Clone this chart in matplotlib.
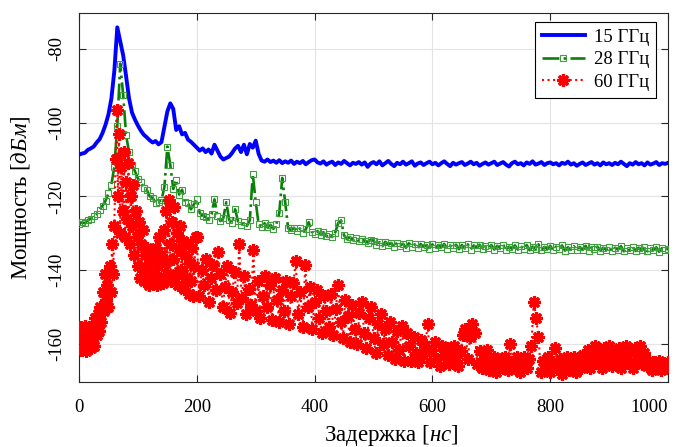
import numpy as np
import matplotlib
matplotlib.use("Agg")
import matplotlib.pyplot as plt

plt.rcParams['font.family'] = ['Liberation Serif', 'DejaVu Serif']
plt.rcParams['mathtext.fontset'] = 'custom'
plt.rcParams['mathtext.rm'] = 'Liberation Serif'
plt.rcParams['mathtext.it'] = 'Liberation Serif:italic'
plt.rcParams['axes.unicode_minus'] = False

# ---------------- data ----------------
delay_15 = np.arange(0, 1001, 5)
power_15 = [
    -108.7, -108.4, -108.2, -107.4, -107.0, -106.5, -105.4, -104.5, -102.8, -100.6,
    -97.8, -93.5, -86.0, -74.2, -78.0, -81.8, -87.5, -93.5, -97.3, -99.2,
    -100.8, -102.2, -103.3, -104.0, -104.8, -105.4, -105.0, -105.9, -105.3, -101.2,
    -97.0, -94.8, -96.3, -102.0, -101.0, -103.2, -102.8, -104.6, -105.2, -106.0,
    -106.8, -107.6, -107.0, -108.0, -107.3, -108.4, -106.0, -107.6, -109.2, -110.0,
    -109.6, -109.2, -108.2, -107.0, -106.3, -108.0, -106.0, -108.6, -105.8, -106.8,
    -104.9, -108.5, -110.3, -110.6, -110.0, -110.7, -110.3, -110.9, -110.2, -111.0,
    -110.5, -110.9, -110.3, -111.2, -110.6, -111.0, -110.4, -111.3, -110.7, -110.2,
    -110.0, -110.8, -111.1, -110.5, -111.4, -110.9, -110.6, -111.5, -110.8, -111.2,
    -110.4, -111.0, -111.6, -110.9, -111.2, -110.7, -111.4, -110.8, -112.0, -111.1,
    -110.7, -111.3, -110.5, -111.6, -111.0, -110.4, -111.2, -111.8, -110.9, -111.3,
    -110.6, -111.4, -111.0, -110.5, -111.7, -111.1, -110.8, -111.5, -111.0, -110.6,
    -111.3, -110.9, -111.6, -111.0, -110.5, -111.2, -111.8, -110.9, -111.4, -111.0,
    -110.7, -111.5, -111.1, -110.6, -111.3, -110.9, -111.7, -111.2, -110.8, -111.4,
    -111.0, -110.6, -111.5, -111.1, -110.7, -111.4, -111.9, -111.0, -110.6, -111.3,
    -111.0, -111.6, -110.8, -111.2, -110.5, -111.4, -111.1, -110.7, -111.5, -111.0,
    -110.8, -111.3, -111.0, -111.6, -110.9, -111.2, -110.6, -111.4, -111.0, -111.7,
    -111.2, -110.8, -111.5, -111.1, -110.7, -111.4, -111.0, -111.6, -110.8, -111.3,
    -111.0, -111.5, -110.9, -111.3, -110.6, -111.2, -111.8, -111.0, -111.4, -110.7,
    -111.3, -111.0, -111.6, -110.8, -111.4, -111.1, -110.7, -111.5, -111.0, -111.2,
    -110.9,
]

delay_28 = np.arange(0, 1001, 5)
power_28 = [
    -127.6, -127.0, -127.3, -126.4, -126.1, -125.2, -124.8, -123.6, -122.5, -121.2,
    -119.2, -116.8, -112.0, -101.0, -84.0, -92.5, -103.5, -108.0, -111.5, -113.2,
    -115.2, -116.0, -117.8, -118.2, -120.0, -120.4, -121.8, -121.5, -121.0, -117.5,
    -106.5, -111.5, -118.0, -115.5, -119.5, -118.2, -121.6, -121.8, -123.5, -122.2,
    -120.8, -124.5, -125.2, -125.6, -126.3, -124.8, -120.8, -125.2, -126.7, -125.9,
    -121.6, -126.4, -127.2, -123.5, -126.8, -127.7, -127.0, -128.0, -126.5, -114.0,
    -121.5, -127.6, -128.3, -127.3, -128.4, -127.7, -128.8, -127.5, -124.5, -115.0,
    -121.5, -128.6, -129.2, -128.5, -129.5, -128.7, -129.8, -128.9, -127.0, -129.6,
    -130.2, -129.4, -130.4, -129.7, -130.8, -130.1, -131.0, -129.8, -127.2, -126.5,
    -130.6, -131.6, -131.0, -131.9, -131.3, -132.2, -131.5, -132.1, -132.5, -131.7,
    -132.0, -133.2, -132.4, -133.5, -132.3, -133.1, -132.6, -133.8, -132.5, -133.4,
    -132.8, -133.9, -132.7, -133.6, -133.0, -134.1, -132.9, -133.7, -133.2, -134.2,
    -133.0, -134.0, -133.2, -133.8, -132.9, -134.2, -133.3, -134.0, -133.1, -134.3,
    -133.2, -134.1, -133.0, -134.4, -133.3, -134.0, -133.1, -134.3, -133.5, -134.1,
    -133.2, -134.4, -133.4, -134.0, -133.1, -134.5, -133.6, -134.2, -133.3, -134.4,
    -133.5, -134.3, -133.2, -134.6, -133.6, -134.2, -133.0, -134.5, -133.7, -134.3,
    -133.4, -134.6, -133.6, -134.2, -133.3, -134.7, -133.8, -134.4, -133.5, -134.6,
    -133.7, -134.5, -133.4, -134.8, -133.8, -134.3, -133.6, -134.7, -133.9, -134.5,
    -133.6, -134.8, -133.9, -134.4, -133.5, -134.9, -134.0, -134.6, -133.7, -134.8,
    -133.9, -134.6, -133.7, -134.9, -134.1, -134.5, -133.8, -135.0, -134.0, -134.6,
    -134.2,
]

delay_60 = np.concatenate([np.arange(0, 200, 2), np.arange(200, 1001, 4)])
power_60 = [
    # 0 .. 198 ns (step 2)
    -158.0, -155.5, -161.5, -157.0, -159.5, -155.0, -162.0, -157.5, -160.0, -155.5,
    -161.0, -158.0, -156.0, -160.5, -153.0, -157.5, -152.0, -156.5, -150.0, -154.0,
    -146.0, -151.0, -141.0, -148.0, -144.0, -150.0, -139.0, -146.0, -133.0, -141.0,
    -128.0, -110.0, -96.5, -120.0, -103.0, -130.0, -112.0, -124.0, -108.0, -131.0,
    -116.0, -126.0, -111.0, -133.0, -120.0, -128.0, -117.0, -136.0, -124.0, -131.0,
    -139.0, -127.0, -142.0, -133.0, -129.0, -143.0, -136.0, -140.0, -134.0, -144.0,
    -138.0, -135.0, -143.0, -137.0, -141.0, -134.0, -144.0, -139.0, -131.0, -142.0,
    -136.0, -143.5, -129.0, -138.0, -124.0, -141.0, -121.0, -133.0, -143.0, -127.0,
    -137.0, -123.0, -141.0, -130.0, -144.0, -134.0, -128.0, -140.0, -132.0, -145.0,
    -136.0, -142.0, -132.5, -146.5, -138.0, -143.0, -134.0, -147.0, -139.0, -131.0,
    # 200 .. 1000 ns (step 4)
    -131.0, -147.0, -140.0, -144.0, -137.0, -148.5, -142.0, -138.5, -145.5, -135.0,
    -141.0, -150.0, -144.5, -139.0, -151.5, -146.0, -140.5, -149.0, -133.0, -147.5,
    -141.5, -152.0, -145.0, -149.5, -134.5, -151.0, -143.0, -153.0, -147.0, -141.5,
    -150.0, -144.0, -153.5, -142.0, -148.0, -154.0, -145.5, -151.0, -143.0, -154.5,
    -147.0, -143.5, -137.5, -152.0, -146.0, -155.5, -138.5, -150.0, -144.5, -156.0,
    -148.5, -145.5, -153.0, -157.0, -147.0, -151.0, -155.5, -146.5, -157.5, -150.5,
    -144.0, -154.0, -158.5, -148.0, -152.5, -159.5, -149.5, -156.0, -160.0, -151.5,
    -148.5, -157.0, -161.0, -153.0, -150.0, -158.5, -162.5, -154.5, -152.0, -160.0,
    -156.0, -163.0, -154.0, -159.5, -164.0, -156.5, -161.5, -155.0, -164.5, -157.0,
    -160.5, -164.5, -158.0, -162.5, -165.0, -159.0, -163.0, -160.5, -154.5, -165.0,
    -161.5, -159.5, -164.0, -166.0, -160.5, -163.0, -161.0, -165.5, -162.5, -160.5,
    -164.5, -166.0, -162.0, -157.5, -156.0, -164.0, -158.0, -154.5, -157.0, -165.5,
    -162.0, -166.5, -164.0, -161.5, -167.0, -165.0, -163.5, -167.5, -165.5, -164.0,
    -166.5, -163.5, -167.0, -160.0, -165.0, -166.5, -163.5, -167.5, -165.0, -163.5,
    -166.5, -164.0, -160.5, -148.5, -153.0, -158.0, -167.5, -164.5, -166.5, -163.5,
    -167.5, -165.0, -161.0, -166.5, -164.0, -168.0, -165.5, -163.5, -167.0, -165.0,
    -163.5, -167.5, -165.0, -166.5, -163.0, -165.5, -161.5, -166.5, -163.5, -160.5,
    -165.0, -162.5, -166.5, -161.0, -164.0, -160.5, -166.0, -162.5, -164.5, -161.0,
    -166.5, -163.0, -160.5, -165.0, -162.0, -166.5, -161.0, -164.0, -160.5, -165.5,
    -162.5, -166.0, -164.5, -167.0, -165.0, -166.5, -164.5, -167.0, -165.5, -166.5,
    -165.0,
]

labels = ['15 ГГц', '28 ГГц', '60 ГГц']
x_ticks = [0, 200, 400, 600, 800, 1000]
y_ticks = [-160, -140, -120, -100, -80]

# ---------------- plot ----------------
fig = plt.figure(figsize=(6.81, 4.47), dpi=100)
ax = fig.add_axes([0.116, 0.1454, 0.865, 0.8256])

ax.plot(delay_15, power_15, color='#0000ff', lw=2.8, ls='-', label=labels[0], zorder=3)
ax.plot(delay_28, power_28, color='#0a800a', lw=1.9, ls='-.', marker='s', ms=4.0,
        mfc='none', mec='#3f9f3f', mew=0.8, label=labels[1], zorder=3)
ax.plot(delay_60, power_60, color='#ff0000', lw=1.5, ls=':', marker=(8, 2, 0), ms=9,
        mew=2.3, mec='#ff0000', label=labels[2], zorder=3)

ax.set_xlim(0, 1000)
ax.set_ylim(-170.3, -70.3)
ax.set_xticks(x_ticks)
ax.set_yticks(y_ticks)
ax.set_yticklabels([str(v) for v in y_ticks], rotation=90, va='center')
ax.grid(True, color='#e3e3e3', lw=0.8)
ax.set_axisbelow(True)
ax.tick_params(direction='in', length=5, width=0.8, top=True, right=True,
               labelsize=13.5, colors='#262626', labelcolor='black')
ax.tick_params(axis='x', pad=12)
ax.tick_params(axis='y', pad=10)
for s in ax.spines.values():
    s.set_color('#262626')
    s.set_linewidth(0.8)
ax.xaxis.get_major_ticks()[-1].label1.set_horizontalalignment('right')

ax.set_xlabel(r'Задержка $[нс]$', fontsize=16.5, labelpad=5)
ax.xaxis.label.set_x(0.53)
ax.set_ylabel(r'Мощность $[дБм]$', fontsize=16.5, labelpad=10)

leg = ax.legend(loc='upper right', bbox_to_anchor=(0.98, 0.976), borderaxespad=0,
                fontsize=13.5, fancybox=False, framealpha=1, edgecolor='black',
                handlelength=2.3, labelspacing=0.3, borderpad=0.35, handletextpad=0.5)
leg.get_frame().set_linewidth(0.8)

fig.savefig('out.png', dpi=100)
